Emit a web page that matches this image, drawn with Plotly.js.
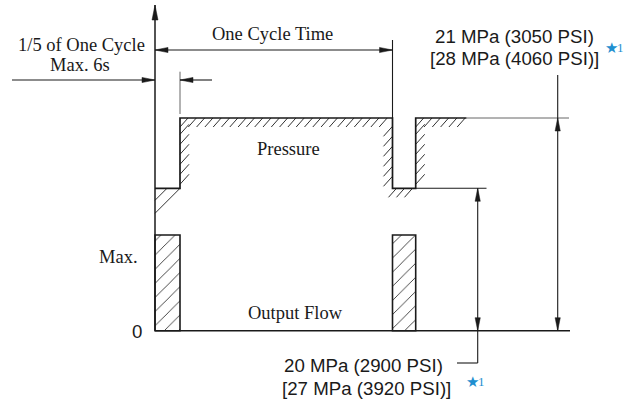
<!DOCTYPE html>
<html><head><meta charset="utf-8">
<script src="https://cdn.plot.ly/plotly-3.0.1.min.js"></script>
<style>html,body{margin:0;padding:0;background:#fff}#chart{width:635px;height:401px}</style>
</head><body><div id="chart"></div>
<script>
// ---------------- diagram values ----------------
// time marks (drawing units from cycle start): start, end of 1/5 shift, next cycle start, next shift end, hatch end
const cycleTimes = [0, 25, 237.5, 260.7, 311.5];
// pressure levels (units above zero): 20 MPa level, 21 MPa level
const pressureLevels = [142.4, 212.7];
// output flow pulses
const flowBarCenters = [12.5, 249.1];
const flowBarWidths = [25, 23.2];
const flowBarValues = [95.7, 95.7];
// tick labels on the vertical axis
const flowTickLabels = ['0', 'Max.'];
const flowTickValues = [0, 95.7];
// labels
const cycleLabel = 'One Cycle Time';
const shiftLabel = ['1/5 of One Cycle', 'Max. 6s'];
const highLabel = ['21 MPa (3050 PSI)', '[28 MPa (4060 PSI)]'];
const lowLabel = ['20 MPa (2900 PSI)', '[27 MPa (3920 PSI)]'];
const noteStar = '★';
const noteNum = '1';

// ---------------- drawing ----------------
const INK = '#1a1a1a', GREY = '#666', BLUE = '#1e8fd0';
const SERIF = 'Liberation Serif, Times New Roman, serif';
const SANS = 'Liberation Sans, Arial, sans-serif';
const [T0, T1, T2, T3, T4] = cycleTimes;
const [L, H] = pressureLevels;

function lineTrace(xs, ys, color, width) {
  return {x: xs, y: ys, type: 'scatter', mode: 'lines', hoverinfo: 'skip',
          line: {color: color, width: width}, showlegend: false};
}
function segTrace(list, color, width) {
  const xs = [], ys = [];
  list.forEach(s => { xs.push(s[0], s[2], null); ys.push(s[1], s[3], null); });
  return lineTrace(xs, ys, color, width);
}
function marks(xa, ya, xb, yb, step, dx, dy, skipStart, skipEnd) {
  const len = Math.hypot(xb - xa, yb - ya), out = [];
  for (let d = skipStart; d <= len - skipEnd + 0.01; d += step) {
    const t = d / len, px = xa + (xb - xa) * t, py = ya + (yb - ya) * t;
    out.push([px, py, px + dx, py + dy]);
  }
  return out;
}
function head(tx, ty, dx, dy, len, hw) {
  const bx = tx - dx * len, by = ty - dy * len, px = -dy * hw, py = dx * hw;
  return {type: 'path', xref: 'x', yref: 'y', layer: 'above',
    path: `M${tx},${ty} L${bx + px},${by + py} L${bx - px},${by - py} Z`,
    fillcolor: INK, line: {color: INK, width: 0.5}};
}

const traces = [];
// flow pulses
traces.push({type: 'bar', x: flowBarCenters, y: flowBarValues, width: flowBarWidths, base: 0,
  hoverinfo: 'skip', showlegend: false,
  marker: {color: 'white', line: {color: INK, width: 1.6},
    pattern: {shape: '/', size: 10, solidity: 0.08, fgcolor: INK, bgcolor: 'white'}}});

// hatching of the pressure curve
const hatch = [].concat(
  marks(T1, H, T2, H, 8.3, -8, -9, 8, 0),
  marks(T1, L, T1, H, 10, 9, 10, 4, 14),
  marks(T2, L, T2, H, 10, -9, -10, 12, 0),
  marks(T2, L, T3, L, 8, -8, -9, 4, 0),
  marks(T3, L, T3, H, 10, 9, 10, 4, 14),
  marks(T3, H, T4, H, 8.3, -8, -9, 8, 0),
  [[T1, L, T0, L - (T1 - T0)], [T0 + 12, L, T0, L - 12]]
);
traces.push(segTrace(hatch, INK, 0.9));

// extension / leader lines
traces.push(segTrace([
  [T1, 259, T1, 216.7],
  [T4, H, 414, H]
], GREY, 1));
traces.push(segTrace([
  [T2, 290.7, T2, H],
  [T3, L, 331.5, L],
  [-143, 250.7, T0, 250.7],
  [57, 250.7, T1, 250.7],
  [T0, 280.7, T2, 280.7],
  [402.7, 255.7, 402.7, 0],
  [322.7, L, 322.7, -32.3],
  [322.7, -32.3, 302, -32.3]
], INK, 1.1));

// pressure curve
traces.push(lineTrace([T0, T1, T1, T2, T2, T3, T3, T4], [L, L, H, H, L, L, H, H], INK, 1.7));
// axes
traces.push(lineTrace([T0, T0], [0, 325.7], INK, 1.5));
traces.push(lineTrace([T0, 415], [0, 0], INK, 1.6));

const shapes = [
  head(T0, 325.7, 0, 1, 15, 3),
  head(T0, 280.7, -1, 0, 13, 2.6), head(T2, 280.7, 1, 0, 13, 2.6),
  head(T0, 250.7, 1, 0, 13, 2.6), head(T1, 250.7, -1, 0, 13, 2.6),
  head(402.7, H, 0, 1, 13, 2.6), head(402.7, 0, 0, -1, 13, 2.6),
  head(322.7, L, 0, 1, 13, 2.6), head(322.7, 0, 0, -1, 13, 2.6)
];

function txt(text, x, y, font, size, xanchor, color) {
  return {text: text, x: x, y: y, xref: 'x', yref: 'y', showarrow: false,
    xanchor: xanchor || 'center', yanchor: 'middle',
    font: {family: font, size: size, color: color || INK}};
}
const annotations = [
  txt(cycleLabel, 117.5, 296.7, SERIF, 18.5),
  txt(shiftLabel[0], -73.5, 285.7, SERIF, 18.5),
  txt(shiftLabel[1], -75, 265.7, SERIF, 18.5),
  txt('Pressure', 133, 181.7, SERIF, 18.5),
  txt('Output Flow', 140, 17.7, SERIF, 18.5),
  txt(flowTickLabels[1], -15, flowTickValues[1] - 22, SERIF, 18.5, 'right'),
  txt(flowTickLabels[0], -11, flowTickValues[0] - 1, SANS, 18.7, 'right'),
  txt(highLabel[0], 359.5, 294.7, SANS, 18.7),
  txt(highLabel[1], 359.5, 272.7, SANS, 18.7),
  txt(noteStar, 448, 282.5, 'DejaVu Sans', 15, 'left', BLUE),
  txt(noteNum, 460, 283.5, SERIF, 13, 'left', BLUE),
  txt(noteStar, 309, -51.5, 'DejaVu Sans', 15, 'left', BLUE),
  txt(noteNum, 321, -50.5, SERIF, 13, 'left', BLUE),
  txt(lowLabel[0], 290, -34.3, SANS, 18.7, 'right'),
  txt(lowLabel[1], 298, -57.3, SANS, 18.7, 'right')
];

const layout = {
  width: 635, height: 401, margin: {l: 0, r: 0, t: 0, b: 0, pad: 0},
  paper_bgcolor: 'white', plot_bgcolor: 'white', showlegend: false, barmode: 'overlay',
  xaxis: {range: [-155, 480], visible: false, fixedrange: true},
  yaxis: {range: [-70.3, 330.7], visible: false, fixedrange: true},
  shapes: shapes, annotations: annotations
};
Plotly.newPlot('chart', traces, layout, {staticPlot: true, displayModeBar: false});
</script></body></html>
